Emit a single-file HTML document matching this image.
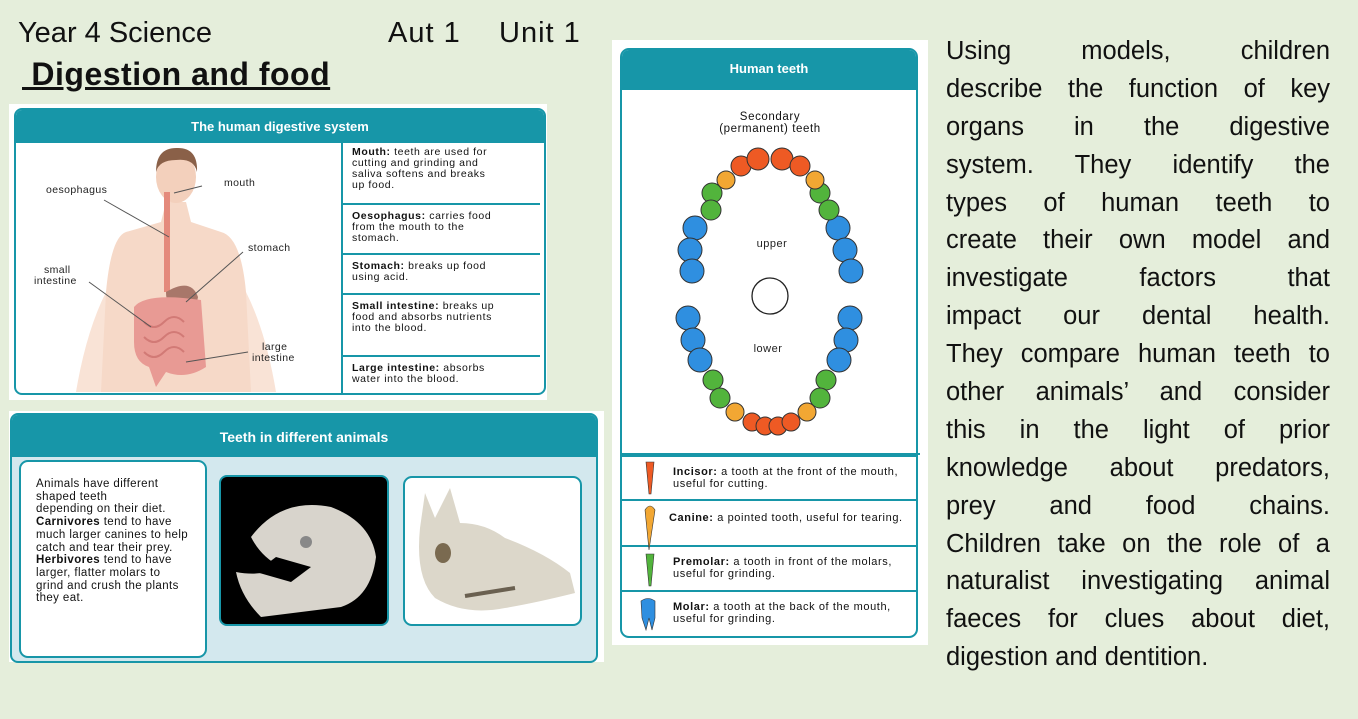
<!DOCTYPE html>
<html><head><meta charset="utf-8"><style>
*{margin:0;padding:0;box-sizing:border-box}
body{width:1358px;height:719px;background:#e5eedb;font-family:"Liberation Sans",sans-serif;position:relative;overflow:hidden;color:#111}
.a{position:absolute}
.hd{background:#1796a8;color:#fff;text-align:center;font-size:13px;font-weight:bold}
.row{position:absolute;left:342px;width:198px;border-top:2px solid #1796a8;font-size:10.5px;line-height:11px;padding:6px 40px 6px 10px;letter-spacing:.6px}
.rt div{text-align:justify;text-align-last:justify;height:37.9px;line-height:37.9px;white-space:nowrap}
.lg{position:absolute;left:621px;width:296px;border-top:2px solid #1796a8;font-size:11px;line-height:12px;letter-spacing:.6px;padding-left:52px;padding-right:14px}
</style></head><body>
<div class="a" style="left:18px;top:17px;font-size:29px">Year 4 Science</div>
<div class="a" style="left:388px;top:17px;font-size:29px;letter-spacing:1px">Aut 1</div>
<div class="a" style="left:499px;top:17px;font-size:29px;letter-spacing:1px">Unit 1</div>
<div class="a" style="left:22px;top:56px;font-size:32px;font-weight:bold;text-decoration:underline;letter-spacing:.5px">&nbsp;Digestion and food</div>

<!-- panel 1 -->
<div class="a" style="left:9px;top:104px;width:538px;height:296px;background:#fff"></div>
<div class="a" style="left:14px;top:108px;width:532px;height:287px;border:2px solid #1796a8;border-radius:8px;overflow:hidden;background:#fff">
 <div class="hd" style="height:33px;line-height:33px">The human digestive system</div>
</div>
<div class="a" style="left:341px;top:141px;width:2px;height:253px;background:#1796a8"></div>
<div class="row" style="top:141px;border-top:0">
<b>Mouth:</b> teeth are used for cutting and grinding and saliva softens and breaks up food.</div>
<div class="row" style="top:203px"><b>Oesophagus:</b> carries food from the mouth to the stomach.</div>
<div class="row" style="top:253px"><b>Stomach:</b> breaks up food using acid.</div>
<div class="row" style="top:293px"><b>Small intestine:</b> breaks up food and absorbs nutrients into the blood.</div>
<div class="row" style="top:355px"><b>Large intestine:</b> absorbs water into the blood.</div>
<svg class="a" style="left:16px;top:142px" width="325" height="250">
 <path d="M110 90 Q95 95 90 150 L80 250 L240 250 L230 150 Q225 95 205 90 L175 80 L170 60 L150 60 L145 80 Z" fill="#f6d9c8"/>
 <path d="M90 150 Q70 190 60 250 L85 250 Z M230 150 Q250 190 260 250 L235 250Z" fill="#f9e3d6"/>
 <ellipse cx="160" cy="35" rx="20" ry="26" fill="#f3d0bc"/>
 <path d="M140 30 Q140 5 162 6 Q182 6 181 30 Q178 16 160 18 Q143 18 140 30Z" fill="#8a6048"/>
 <rect x="148" y="50" width="6" height="100" fill="#e48a7c"/>
 <path d="M150 150 Q175 135 182 155 Q180 170 160 168 Q150 165 150 150Z" fill="#a8776a"/>
 <path d="M118 165 Q130 150 185 158 L190 225 Q170 238 150 230 L140 245 L133 225 Q118 220 118 200Z" fill="#e89a94"/>
 <g stroke="#d27a76" fill="none" stroke-width="2"><path d="M128 180q10 10 20 0t20 0 M128 195q10 10 20 0t20 0 M128 210q10 10 20 0t20 0"/></g>
 <g stroke="#555" stroke-width="1"><line x1="88" y1="58" x2="153" y2="95"/><line x1="186" y1="44" x2="158" y2="51"/><line x1="227" y1="110" x2="170" y2="160"/><line x1="73" y1="140" x2="135" y2="185"/><line x1="232" y1="210" x2="170" y2="220"/></g>
 <g font-size="10.5" fill="#222" letter-spacing=".4"><text x="30" y="51">oesophagus</text><text x="208" y="44">mouth</text><text x="232" y="109">stomach</text><text x="28" y="131">small</text><text x="18" y="142">intestine</text><text x="246" y="208">large</text><text x="236" y="219">intestine</text></g>
</svg>

<!-- panel 2 -->
<div class="a" style="left:9px;top:411px;width:595px;height:251px;background:#fff"></div>
<div class="a" style="left:10px;top:413px;width:588px;height:250px;border:2px solid #1796a8;border-radius:8px;overflow:hidden;background:#d3e8ee">
 <div class="hd" style="height:42px;line-height:44px;font-size:14px">Teeth in different animals</div>
</div>
<div class="a" style="left:19px;top:460px;width:188px;height:198px;background:#fff;border:2px solid #1796a8;border-radius:9px;padding:16px 14px 0 15px;font-size:11.5px;line-height:12.7px;letter-spacing:.4px">Animals have different shaped teeth<br>depending on their diet.<br><b>Carnivores</b> tend to have much larger canines to help catch and tear their prey.<br><b>Herbivores</b> tend to have larger, flatter molars to grind and crush the plants they eat.</div>
<div class="a" style="left:219px;top:475px;width:170px;height:151px;background:#000;border:2px solid #1796a8;border-radius:8px;overflow:hidden">
 <svg width="170" height="151"><path d="M30 60 Q60 20 110 30 Q150 45 155 80 Q150 120 120 130 L40 140 Q20 120 15 95 Q40 100 60 90 Q40 80 30 60Z" fill="#d8d4cc"/><path d="M35 95 L55 80 L90 90 L70 105Z" fill="#000"/><ellipse cx="85" cy="65" rx="6" ry="6" fill="#888"/></svg></div>
<div class="a" style="left:403px;top:476px;width:179px;height:150px;background:#fff;border:2px solid #1796a8;border-radius:9px;overflow:hidden">
 <svg width="179" height="150"><path d="M15 50 L20 15 L30 40 L45 10 L55 45 Q80 45 100 60 Q140 75 165 95 L170 115 Q130 125 100 130 Q60 138 30 120 Q10 100 15 50Z" fill="#dcd7ca"/><ellipse cx="38" cy="75" rx="8" ry="10" fill="#7a6a50"/><path d="M60 118 L110 110" stroke="#6a6050" stroke-width="4"/></svg></div>

<!-- panel 3 -->
<div class="a" style="left:612px;top:40px;width:316px;height:605px;background:#fff"></div>
<div class="a" style="left:620px;top:48px;width:298px;height:590px;border:2px solid #1796a8;border-radius:9px;overflow:hidden">
 <div class="hd" style="height:40px;line-height:38px">Human teeth</div>
</div>
<div class="a" style="left:620px;top:111px;width:300px;text-align:center;font-size:11.5px;line-height:12px;letter-spacing:.6px">Secondary<br>(permanent) teeth</div>
<svg class="a" style="left:620px;top:140px" width="300" height="300">
 <g stroke="#333" stroke-width="1">
 <g fill="#2f8fe0">
 <circle cx="75" cy="88" r="12"/><circle cx="70" cy="110" r="12"/><circle cx="72" cy="131" r="12"/>
 <circle cx="218" cy="88" r="12"/><circle cx="225" cy="110" r="12"/><circle cx="231" cy="131" r="12"/>
 <circle cx="68" cy="178" r="12"/><circle cx="73" cy="200" r="12"/><circle cx="80" cy="220" r="12"/>
 <circle cx="230" cy="178" r="12"/><circle cx="226" cy="200" r="12"/><circle cx="219" cy="220" r="12"/></g>
 <g fill="#52b43c">
 <circle cx="92" cy="53" r="10"/><circle cx="91" cy="70" r="10"/><circle cx="200" cy="53" r="10"/><circle cx="209" cy="70" r="10"/>
 <circle cx="93" cy="240" r="10"/><circle cx="100" cy="258" r="10"/><circle cx="206" cy="240" r="10"/><circle cx="200" cy="258" r="10"/></g>
 <g fill="#f2a733">
 <circle cx="106" cy="40" r="9"/><circle cx="195" cy="40" r="9"/><circle cx="115" cy="272" r="9"/><circle cx="187" cy="272" r="9"/></g>
 <g fill="#ee5a24">
 <circle cx="121" cy="26" r="10"/><circle cx="138" cy="19" r="11"/><circle cx="162" cy="19" r="11"/><circle cx="180" cy="26" r="10"/>
 <circle cx="132" cy="282" r="9"/><circle cx="145" cy="286" r="9"/><circle cx="158" cy="286" r="9"/><circle cx="171" cy="282" r="9"/></g>
 </g>
 <circle cx="150" cy="156" r="18" fill="none" stroke="#222" stroke-width="1.3"/>
 <g font-size="11" fill="#222" text-anchor="middle" letter-spacing=".5"><text x="152" y="107">upper</text><text x="148" y="212">lower</text></g>
</svg>
<div class="a" style="left:620px;top:453px;width:300px;height:2px;background:#1796a8"></div>
<div class="lg" style="top:455px;height:45px;padding-top:9px"><b>Incisor:</b> a tooth at the front of the mouth, useful for cutting.</div>
<div class="lg" style="top:499px;height:46px;padding-top:11px;padding-left:48px"><b>Canine:</b> a pointed tooth, useful for tearing.</div>
<div class="lg" style="top:545px;height:46px;padding-top:9px"><b>Premolar:</b> a tooth in front of the molars, useful for grinding.</div>
<div class="lg" style="top:590px;height:46px;padding-top:9px"><b>Molar:</b> a tooth at the back of the mouth, useful for grinding.</div>
<svg class="a" style="left:638px;top:458px" width="30" height="175">
 <path d="M8 4 L16 4 L13 36 L11 36Z" fill="#ee5a24" stroke="#333" stroke-width=".6"/>
 <path d="M7 52 Q12 44 17 52 L11 92Z" fill="#f2a733" stroke="#333" stroke-width=".6"/>
 <path d="M8 96 L16 96 L13 128 L11 128Z" fill="#52b43c" stroke="#333" stroke-width=".6"/>
 <path d="M3 143 Q10 138 17 143 L17 160 L14 172 L11 160 L8 172 L4 160Z" fill="#2f8fe0" stroke="#333" stroke-width=".6"/>
</svg>

<!-- right text -->
<div class="a rt" style="left:946px;top:33px;width:384px;font-size:25.5px;color:#111">
<div>Using models, children</div>
<div>describe the function of key</div>
<div>organs in the digestive</div>
<div>system. They identify the</div>
<div>types of human teeth to</div>
<div>create their own model and</div>
<div>investigate factors that</div>
<div>impact our dental health.</div>
<div>They compare human teeth to</div>
<div>other animals’ and consider</div>
<div>this in the light of prior</div>
<div>knowledge about predators,</div>
<div>prey and food chains.</div>
<div>Children take on the role of a</div>
<div>naturalist investigating animal</div>
<div>faeces for clues about diet,</div>
<div style="text-align-last:left">digestion and dentition.</div>
</div>
</body></html>
